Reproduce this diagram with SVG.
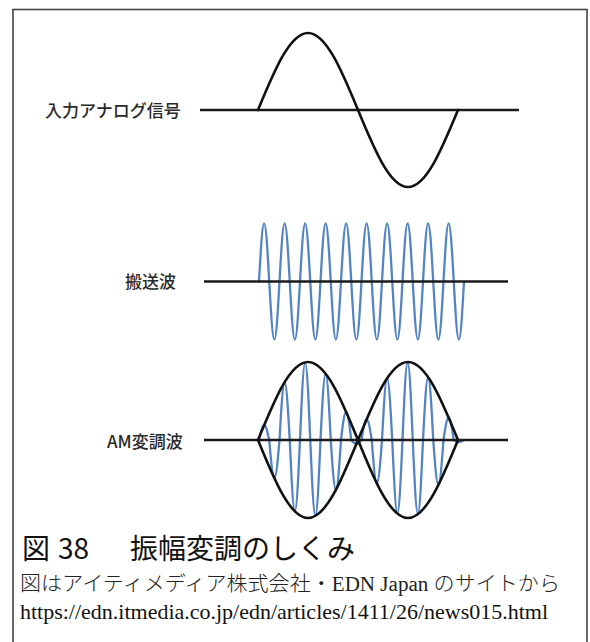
<svg xmlns="http://www.w3.org/2000/svg" width="590" height="642" viewBox="0 0 590 642">
<style>
.lbl{font-family:"Noto Sans CJK JP","Noto Sans",sans-serif;font-size:17px;fill:#2a2a2a;font-weight:500}
.cap{font-family:"Noto Sans CJK JP","Noto Sans",sans-serif;font-size:28px;fill:#111}
.src{font-family:"Liberation Serif","Noto Sans CJK JP",serif;font-size:20.5px;fill:#222;font-weight:300}
.url{font-family:"Liberation Serif",serif;font-size:21px;fill:#111}
.blk{fill:none;stroke:#111;stroke-width:2.6;stroke-linecap:round;stroke-linejoin:round}
.base{fill:none;stroke:#1a1a1a;stroke-width:2.6}
.blue{fill:none;stroke:#5584c4;stroke-width:2.3;stroke-linejoin:round}
</style>
<rect width="590" height="642" fill="#fff"/>
<rect id="frame" x="13" y="9.5" width="574" height="660" fill="none" stroke="#444" stroke-width="1.6"/>
<g id="signal">
<text class="lbl" x="45" y="116.5">入力アナログ信号</text>
<path class="base" d="M200,110 H519"/>
<path class="blk" d="M258,110 c16.31,-39.45 31.9,-77 50,-77 c18.1,0 33.69,37.55 50,77 c16.31,39.45 31.9,77 50,77 c18.1,0 33.69,-37.55 50,-77"/>
</g>
<g id="carrier">
<text class="lbl" x="125" y="287.5">搬送波</text>
<path class="blue" d="M259,281.5 c1.671,-29.71 3.27,-58 5.125,-58 c1.855,0 3.454,28.29 5.125,58 c1.671,29.71 3.27,58 5.125,58 c1.855,0 3.454,-28.29 5.125,-58 c1.671,-29.71 3.27,-58 5.125,-58 c1.855,0 3.454,28.29 5.125,58 c1.671,29.71 3.27,58 5.125,58 c1.855,0 3.454,-28.29 5.125,-58 c1.671,-29.71 3.27,-58 5.125,-58 c1.855,0 3.454,28.29 5.125,58 c1.671,29.71 3.27,58 5.125,58 c1.855,0 3.454,-28.29 5.125,-58 c1.671,-29.71 3.27,-58 5.125,-58 c1.855,0 3.454,28.29 5.125,58 c1.671,29.71 3.27,58 5.125,58 c1.855,0 3.454,-28.29 5.125,-58 c1.671,-29.71 3.27,-58 5.125,-58 c1.855,0 3.454,28.29 5.125,58 c1.671,29.71 3.27,58 5.125,58 c1.855,0 3.454,-28.29 5.125,-58 c1.671,-29.71 3.27,-58 5.125,-58 c1.855,0 3.454,28.29 5.125,58 c1.671,29.71 3.27,58 5.125,58 c1.855,0 3.454,-28.29 5.125,-58 c1.671,-29.71 3.27,-58 5.125,-58 c1.855,0 3.454,28.29 5.125,58 c1.671,29.71 3.27,58 5.125,58 c1.855,0 3.454,-28.29 5.125,-58 c1.671,-29.71 3.27,-58 5.125,-58 c1.855,0 3.454,28.29 5.125,58 c1.671,29.71 3.27,58 5.125,58 c1.855,0 3.454,-28.29 5.125,-58 c1.671,-29.71 3.27,-58 5.125,-58 c1.855,0 3.454,28.29 5.125,58 c1.671,29.71 3.27,58 5.125,58 c1.855,0 3.454,-28.29 5.125,-58 c1.671,-29.71 3.27,-58 5.125,-58 c1.855,0 3.454,28.29 5.125,58 c1.671,29.71 3.27,58 5.125,58 c1.855,0 3.454,-28.29 5.125,-58"/>
<path class="base" d="M204,281.5 H508"/>
</g>
<g id="am">
<text class="lbl" x="107" y="447.5">AM変調波</text>
<path class="blue" d="M259,440 c1.671,-7.58 3.27,-14.8 5.125,-14.8 c1.855,0 3.454,7.22 5.125,14.8 c1.671,19.52 3.27,38.1 5.125,38.1 c1.855,0 3.454,-18.58 5.125,-38.1 c1.671,-29.46 3.27,-57.5 5.125,-57.5 c1.855,0 3.454,28.04 5.125,57.5 c1.671,36.37 3.27,71 5.125,71 c1.855,0 3.454,-34.63 5.125,-71 c1.671,-39.55 3.27,-77.2 5.125,-77.2 c1.855,0 3.454,37.65 5.125,77.2 c1.671,38.63 3.27,75.4 5.125,75.4 c1.855,0 3.454,-36.77 5.125,-75.4 c1.671,-33.76 3.27,-65.9 5.125,-65.9 c1.855,0 3.454,32.14 5.125,65.9 c1.671,25.41 3.27,49.6 5.125,49.6 c1.855,0 3.454,-24.19 5.125,-49.6 c1.671,-14.45 3.27,-28.2 5.125,-28.2 c1.855,0 3.454,13.75 5.125,28.2 c1.671,2.05 3.27,4 5.125,4 c1.855,0 3.454,-1.95 5.125,-4 c1.671,-10.6 3.27,-20.7 5.125,-20.7 c1.855,0 3.454,10.1 5.125,20.7 c1.671,22.18 3.27,43.3 5.125,43.3 c1.855,0 3.454,-21.12 5.125,-43.3 c1.671,-31.46 3.27,-61.4 5.125,-61.4 c1.855,0 3.454,29.94 5.125,61.4 c1.671,37.5 3.27,73.2 5.125,73.2 c1.855,0 3.454,-35.7 5.125,-73.2 c1.671,-39.7 3.27,-77.5 5.125,-77.5 c1.855,0 3.454,37.8 5.125,77.5 c1.671,37.81 3.27,73.8 5.125,73.8 c1.855,0 3.454,-35.99 5.125,-73.8 c1.671,-32.02 3.27,-62.5 5.125,-62.5 c1.855,0 3.454,30.48 5.125,62.5 c1.671,22.95 3.27,44.8 5.125,44.8 c1.855,0 3.454,-21.85 5.125,-44.8 c1.671,-11.53 3.27,-22.5 5.125,-22.5 c1.855,0 3.454,10.97 5.125,22.5 c1.671,1.08 3.27,2.1 5.125,2.1 c1.855,0 3.454,-1.02 5.125,-2.1"/>
<path class="base" d="M204,440 H508"/>
<path class="blk" d="M258,440 c16.31,-39.96 31.9,-78 50,-78 c18.1,0 33.69,38.04 50,78 c16.31,-39.96 31.9,-78 50,-78 c18.1,0 33.69,38.04 50,78"/>
<path class="blk" d="M258,440 c16.31,39.96 31.9,78 50,78 c18.1,0 33.69,-38.04 50,-78 c16.31,39.96 31.9,78 50,78 c18.1,0 33.69,-38.04 50,-78"/>
</g>
<g id="caption">
<text class="cap" y="558.5"><tspan x="22">図</tspan><tspan x="58">38</tspan><tspan x="130">振幅変調のしくみ</tspan></text>
<text class="src" x="20" y="590.5" textLength="540" lengthAdjust="spacingAndGlyphs">図はアイティメディア株式会社・EDN Japan のサイトから</text>
<text class="url" x="20" y="619" textLength="528" lengthAdjust="spacingAndGlyphs">https://edn.itmedia.co.jp/edn/articles/1411/26/news015.html</text>
</g>
</svg>
